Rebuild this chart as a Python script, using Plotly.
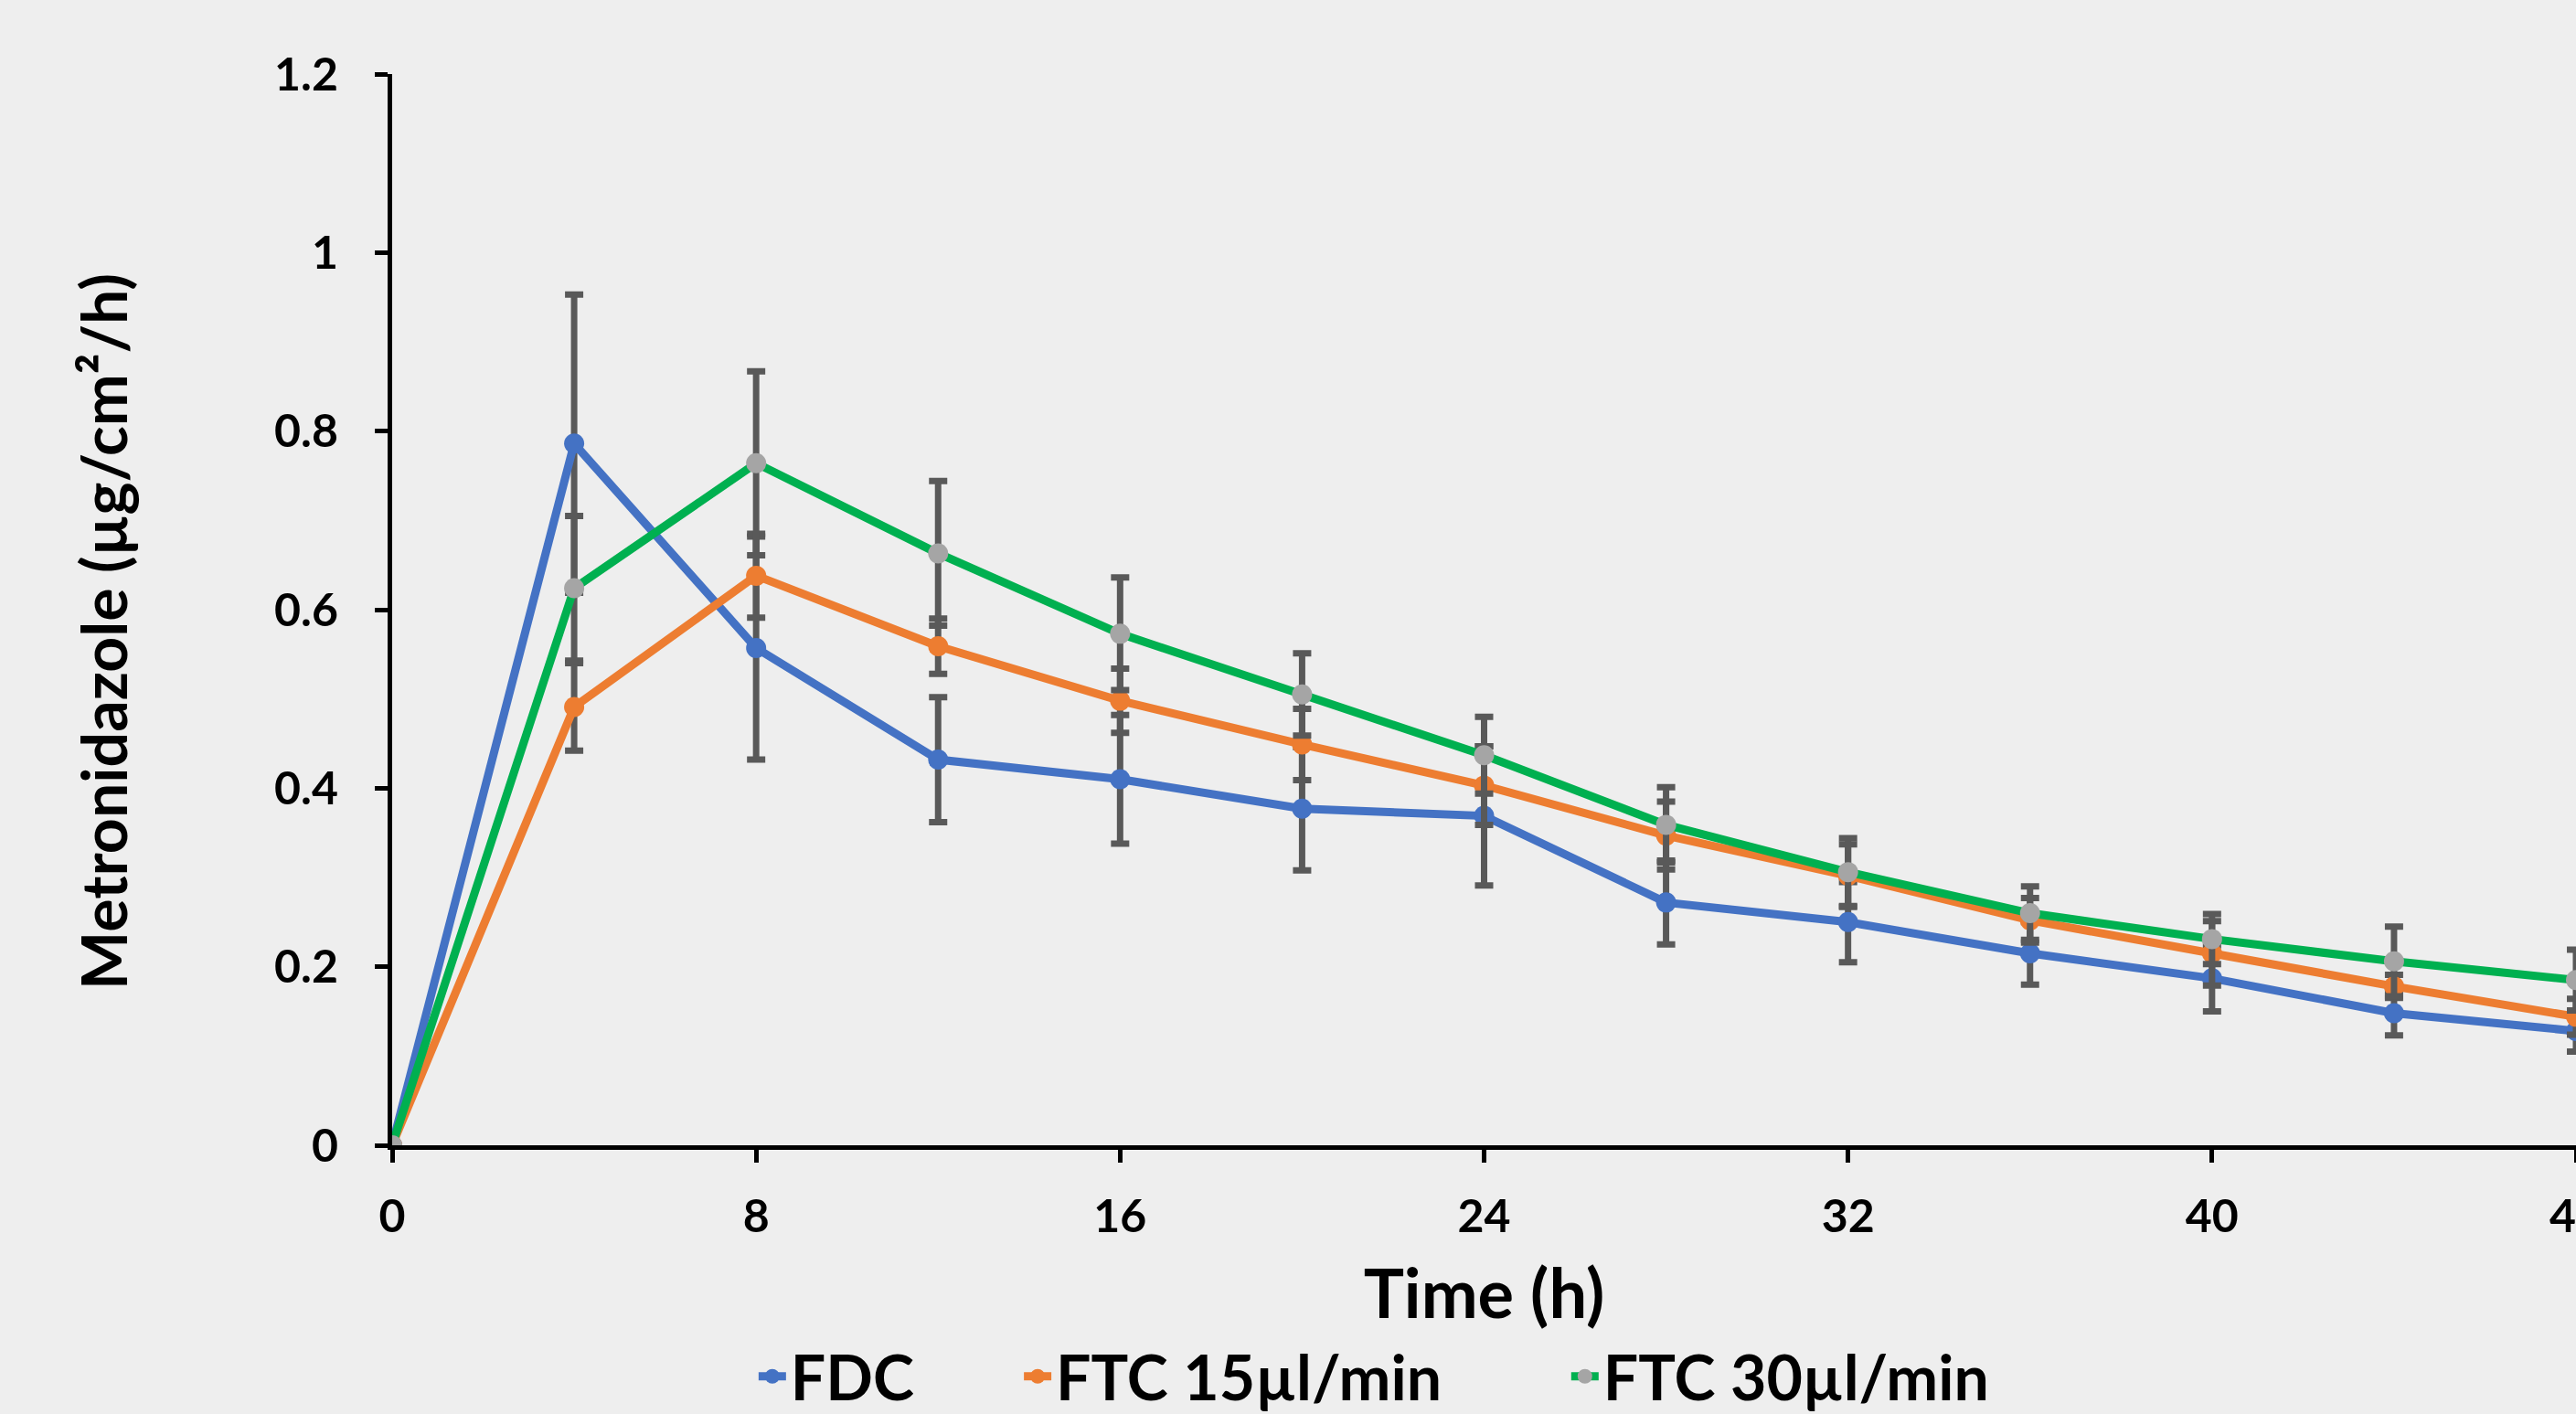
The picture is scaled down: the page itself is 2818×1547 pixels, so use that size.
import plotly.graph_objects as go

# ---- data ----
time_h = [0, 4, 8, 12, 16, 20, 24, 28, 32, 36, 40, 44, 48]

fdc = [0, 0.786, 0.557, 0.432, 0.410, 0.377, 0.369, 0.272, 0.250, 0.215, 0.187, 0.148, 0.128]
fdc_sd = [None, 0.167, 0.125, 0.070, 0.072, 0.069, 0.078, 0.047, 0.045, 0.035, 0.037, 0.025, 0.023]

ftc15 = [0, 0.491, 0.638, 0.559, 0.498, 0.449, 0.403, 0.347, 0.302, 0.252, 0.215, 0.178, 0.144]
ftc15_sd = [None, 0.049, 0.047, 0.031, 0.036, 0.040, 0.044, 0.038, 0.035, 0.025, 0.036, 0.013, 0.020]

ftc30 = [0, 0.624, 0.764, 0.663, 0.573, 0.505, 0.437, 0.359, 0.306, 0.260, 0.231, 0.206, 0.185]
ftc30_sd = [None, 0.081, 0.103, 0.081, 0.063, 0.046, 0.043, 0.042, 0.038, 0.030, 0.028, 0.039, 0.034]

series_names = ["FDC", "FTC 15µl/min", "FTC 30µl/min"]
x_ticks = [0, 8, 16, 24, 32, 40, 48]
y_ticks = [0, 0.2, 0.4, 0.6, 0.8, 1, 1.2]
y_tick_text = ["0", "0.2", "0.4", "0.6", "0.8", "1", "1.2"]
x_title = "Time (h)"
y_title = "Metronidazole (µg/cm²/h)"

# ---- styles ----
line_colors = ["#4472C4", "#ED7D31", "#00B050"]
marker_colors = ["#4472C4", "#ED7D31", "#A5A5A5"]
legend_ids = ["legend", "legend2", "legend3"]
legend_x = [0.1657, 0.2872, 0.5378]   # paper x of each legend entry
FONT = "Lato"
BG = "#EEEEEE"

fig = go.Figure()
for name, y, sd, lc, mc, lg in zip(series_names, [fdc, ftc15, ftc30],
                                   [fdc_sd, ftc15_sd, ftc30_sd],
                                   line_colors, marker_colors, legend_ids):
    fig.add_trace(go.Scatter(
        x=time_h, y=y, name=name, mode="lines+markers",
        line=dict(color=lc, width=9),
        marker=dict(color=mc, size=22),
        error_y=dict(type="data", array=sd, visible=True,
                     color="#595959", thickness=7, width=10),
        legend=lg,
    ))

axis_common = dict(
    showline=True, linewidth=5, linecolor="black",
    ticks="outside", ticklen=14, tickwidth=5, tickcolor="black",
    showgrid=False, zeroline=False, automargin=False,
    ticklabeloverflow="allow",
    tickfont=dict(family=FONT, size=50, color="black", weight="bold"),
)

legend_font = dict(family=FONT, size=68, color="black", weight="bold")
legends = {}
for lg, lx in zip(legend_ids, legend_x):
    legends[lg] = dict(
        orientation="h", x=lx, xanchor="left", y=-0.2159, yanchor="middle",
        font=legend_font, bgcolor="rgba(0,0,0,0)", itemwidth=30,
    )

fig.update_layout(
    width=2818, height=1547,
    paper_bgcolor=BG, plot_bgcolor=BG,
    margin=dict(l=429, r=0, t=81, b=294, autoexpand=False),
    font=dict(family=FONT, color="black"),
    xaxis=dict(
        range=[0, 48], tickvals=x_ticks, ticklabelstandoff=16,
        title=dict(text=x_title, standoff=34,
                   font=dict(family=FONT, size=74, color="black", weight="bold")),
        **axis_common,
    ),
    yaxis=dict(
        range=[0, 1.2], tickvals=y_ticks, ticktext=y_tick_text, ticklabelstandoff=30,
        **axis_common,
    ),
    annotations=[dict(
        text=y_title, textangle=-90, xref="paper", yref="paper",
        x=-0.1327, y=0.4795, xanchor="center", yanchor="middle", showarrow=False,
        font=dict(family=FONT, size=68, color="black", weight="bold"),
    )],
    showlegend=True,
    **legends,
)

fig.write_html(
    "out.html",
    config={"displayModeBar": False},
    post_script="document.body.style.margin='0';document.body.style.overflow='hidden';",
)
